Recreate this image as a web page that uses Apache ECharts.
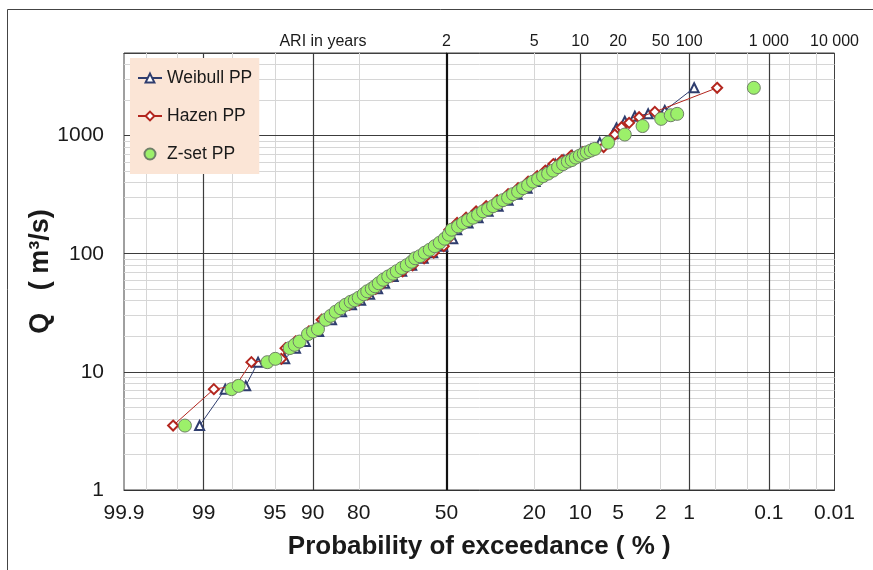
<!DOCTYPE html>
<html>
<head>
<meta charset="utf-8">
<script src="https://cdn.jsdelivr.net/npm/echarts@6/dist/echarts.min.js"></script>
<style>
html,body{margin:0;padding:0;background:#fff;}
#chart{width:873px;height:570px;}
</style>
</head>
<body>
<div id="chart"></div>
<script>
// ---- data: [exceedance probability (%), Q (m3/s)] ----
const weibullPP = [[99.1,3.51],[98.3,7.14],[97.28,7.61],[96.45,12.08],[93.94,12.89],[92.60,15.88],[91.19,18.06],[88.96,21.95],[86.46,27.6],[84.26,32.3],[81.85,37.0],[79.46,40.4],[76.93,45.4],[74.52,50.5],[72.33,56.2],[69.52,64.2],[66.59,71.1],[63.05,79.9],[58.83,91.6],[55.24,102.0],[51.41,115.8],[47.59,134.0],[46.05,159.7],[41.79,182.0],[38.08,201.9],[34.48,228.3],[31.02,252.7],[27.72,284.1],[24.91,319.4],[21.97,359.0],[19.78,407.6],[18.47,453.8],[16.71,505.1],[14.86,573.5],[13.01,620.1],[11.42,676.9],[9.86,722.1],[8.30,771.6],[7.08,872],[5.51,1034],[5.16,1162],[4.37,1322],[3.55,1457],[2.66,1527],[1.82,1629],[0.88,2537]];
const hazenPP = [[99.56,3.51],[98.71,7.14],[97.83,7.61],[96.92,12.08],[94.32,12.89],[93.85,15.88],[92.59,18.06],[90.63,21.95],[88.42,27.6],[85.13,32.3],[82.33,37.0],[79.99,40.4],[77.49,45.4],[75.11,50.5],[72.95,56.2],[69.85,64.2],[66.25,71.1],[62.69,79.9],[58.47,91.6],[54.86,102.0],[51.03,115.8],[49.3,134.0],[48.9,159.7],[45.94,182.0],[42.54,201.9],[38.80,228.3],[35.17,252.7],[31.35,284.1],[27.72,319.4],[24.61,359.0],[21.68,407.6],[19.21,453.8],[17.17,505.1],[15.28,573.5],[13.39,620.1],[11.59,676.9],[9.55,722.1],[7.47,771.6],[6.6,800],[5.33,1020],[4.67,1176],[4.00,1281],[3.24,1429],[2.29,1588],[0.474,2537]];
const zsetPP = [[99.39,3.51],[98.03,7.14],[97.68,7.61],[95.69,12.08],[94.95,12.89],[93.35,15.88],[92.70,16.93],[92.03,18.06],[90.77,20.87],[89.96,21.95],[89.09,23.0],[87.64,27.6],[86.63,29.8],[85.57,32.3],[84.45,34.5],[83.29,37.0],[82.06,39.2],[81.03,40.4],[79.98,42.4],[78.61,45.4],[77.61,48.1],[76.30,50.5],[75.27,53.0],[74.19,56.2],[72.77,60.2],[71.16,64.2],[69.57,67.7],[68.31,71.1],[66.59,75.6],[64.83,79.9],[63.03,85.5],[61.76,91.6],[60.10,95.2],[58.24,102.0],[56.36,108.1],[54.46,115.8],[52.56,124.0],[50.65,134.0],[49.12,144.9],[47.97,159.7],[45.57,170.4],[43.68,182.0],[41.80,192.3],[39.94,201.9],[38.10,214.1],[36.28,228.3],[34.50,238.3],[32.75,252.7],[31.04,269.0],[29.37,284.1],[27.74,298.3],[26.16,319.4],[24.62,335.4],[23.14,359.0],[21.70,380.6],[20.32,407.6],[18.99,428.0],[17.72,453.8],[16.50,476.4],[15.34,505.1],[14.23,540.9],[13.18,573.5],[12.24,602.2],[11.49,620.1],[10.75,651.1],[10.06,676.9],[9.41,703.9],[8.93,722.1],[8.33,746.4],[7.75,771.6],[6.07,872.4],[4.37,1020],[3.01,1204],[1.98,1385],[1.58,1486],[1.35,1527],[0.161,2537]];

// ---- tick labels ----
const probTicks = [99.9, 99, 95, 90, 80, 50, 20, 10, 5, 2, 1, 0.1, 0.01];
const probLabels = ['99.9','99','95','90','80','50','20','10','5','2','1','0.1','0.01'];
const ariTicks = [2, 5, 10, 20, 50, 100, 1000, 10000];
const ariLabels = ['2','5','10','20','50','100','1 000','10 000'];
const qTicks = [1, 10, 100, 1000];
const qLabels = ['1','10','100','1000'];

// ---- grid lines ----
const medianProbLine = [50];
const majorProbLines = [99, 90, 10, 1, 0.1];
const minorProbLines = [99.8, 99.5, 98, 95, 80, 20, 5, 2, 0.5, 0.2, 0.05, 0.02];
const majorQLines = [10, 100, 1000];
const minorQLines = [2,3,4,5,6,7,8,9,20,30,40,50,60,70,80,90,200,300,400,500,600,700,800,900,2000,3000,4000];

const Q_MIN = 1, Q_MAX = 5000;

// inverse standard normal CDF (Acklam)
function invNorm(p){
  const a=[-3.969683028665376e+01,2.209460984245205e+02,-2.759285104469687e+02,1.383577518672690e+02,-3.066479806614716e+01,2.506628277459239e+00];
  const b=[-5.447609879822406e+01,1.615858368580409e+02,-1.556989798598866e+02,6.680131188771972e+01,-1.328068155288572e+01];
  const c=[-7.784894002430293e-03,-3.223964580411365e-01,-2.400758277161838e+00,-2.549732539343734e+00,4.374664141464968e+00,2.938163982698783e+00];
  const d=[7.784695709041462e-03,3.224671290700398e-01,2.445134137142996e+00,3.754408661907416e+00];
  const pl=0.02425, ph=1-pl; let q,r;
  if(p<pl){q=Math.sqrt(-2*Math.log(p));return (((((c[0]*q+c[1])*q+c[2])*q+c[3])*q+c[4])*q+c[5])/((((d[0]*q+d[1])*q+d[2])*q+d[3])*q+1);}
  if(p<=ph){q=p-0.5;r=q*q;return (((((a[0]*r+a[1])*r+a[2])*r+a[3])*r+a[4])*r+a[5])*q/(((((b[0]*r+b[1])*r+b[2])*r+b[3])*r+b[4])*r+1);}
  q=Math.sqrt(-2*Math.log(1-p));return -(((((c[0]*q+c[1])*q+c[2])*q+c[3])*q+c[4])*q+c[5])/((((d[0]*q+d[1])*q+d[2])*q+d[3])*q+1);
}
// exceedance probability (%) -> normal-probability axis coordinate
function toX(pct){ return invNorm(1 - pct/100); }

const X_MIN = toX(probTicks[0]);
const X_MAX = toX(probTicks[probTicks.length-1]);

function labelFor(v, ticks, labels, conv){
  let best = -1, bd = Infinity;
  for (let i=0;i<ticks.length;i++){ const dd = Math.abs(conv(ticks[i]) - v); if (dd < bd){ bd = dd; best = i; } }
  return bd < 1e-3 ? labels[best] : '';
}

const FONT = 'Liberation Sans, Arial, Helvetica, sans-serif';
const toPts = arr => arr.map(([p,q]) => [toX(p), q]);

const chart = echarts.init(document.getElementById('chart'), null, {renderer:'canvas'});
const option = {
  animation: false,
  backgroundColor: '#ffffff',
  textStyle: { fontFamily: FONT },
  grid: { left: 124, right: 38.5, top: 53, bottom: 80, show: true, borderColor: '#404040', borderWidth: 1, backgroundColor: 'transparent', outerBoundsMode: 'none' },
  legend: {
    data: ['Weibull PP','Hazen PP','Z-set PP'],
    orient: 'vertical', left: 130, top: 58,
    backgroundColor: '#fbe5d6',
    padding: [11, 7, 11, 7],
    itemGap: 20, itemWidth: 24, itemHeight: 11,
    textStyle: { fontSize: 17.5, color: '#1a1a1a', fontFamily: FONT }
  },
  graphic: [
    { type:'line', shape:{x1:7.5,y1:9.5,x2:873,y2:9.5}, style:{stroke:'#444',lineWidth:1}, silent:true },
    { type:'line', shape:{x1:7.5,y1:9.5,x2:7.5,y2:570}, style:{stroke:'#444',lineWidth:1}, silent:true },
    { type:'text', x:323, y:41.5, style:{ text:'ARI in years', fontSize:16, fill:'#1a1a1a', fontFamily: FONT, align:'center', verticalAlign:'middle' }, silent:true }
  ],
  xAxis: [
    {
      type: 'value', position: 'bottom', min: X_MIN, max: X_MAX,
      axisLine: { show: true, lineStyle: { color: '#333', width: 1 } },
      axisTick: { show: false },
      splitLine: { show: false },
      axisLabel: {
        customValues: probTicks.map(toX),
        formatter: v => labelFor(v, probTicks, probLabels, toX),
        fontSize: 21, color: '#1a1a1a', margin: 13, fontFamily: FONT
      },
      name: 'Probability of exceedance ( % )', nameLocation: 'middle', nameGap: 44,
      nameMoveOverlap: false,
      nameTextStyle: { fontSize: 26, fontWeight: 'bold', color: '#1a1a1a', fontFamily: FONT }
    },
    {
      type: 'value', position: 'top', min: X_MIN, max: X_MAX,
      axisLine: { show: true, lineStyle: { color: '#404040', width: 1 } },
      axisTick: { show: false },
      splitLine: { show: false },
      axisLabel: {
        customValues: ariTicks.map(a => toX(100/a)),
        formatter: v => labelFor(v, ariTicks, ariLabels, a => toX(100/a)),
        fontSize: 16, color: '#1a1a1a', margin: 3, fontFamily: FONT
      }
    }
  ],
  yAxis: {
    type: 'log', logBase: 10, min: Q_MIN, max: Q_MAX,
    axisLine: { show: true, lineStyle: { color: '#333', width: 1 } },
    axisTick: { show: true, inside: false, length: 6, lineStyle: { color: '#333' } },
    splitLine: { show: false },
    minorTick: { show: false },
    axisLabel: {
      fontSize: 21, color: '#1a1a1a', margin: 20, showMaxLabel: false, fontFamily: FONT,
      formatter: v => labelFor(Math.log10(v), qTicks, qLabels, t => Math.log10(t))
    },
    name: 'Q   ( m³/s)', nameLocation: 'middle', nameGap: 70, nameRotate: 90,
    nameMoveOverlap: false,
    nameTextStyle: { fontSize: 27, fontWeight: 'bold', color: '#1a1a1a', fontFamily: FONT }
  },
  series: [
    {
      name: 'minor-grid', type: 'line', data: [], silent: true, z: 1,
      markLine: {
        silent: true, symbol: ['none','none'], animation: false, z: 1,
        label: { show: false },
        lineStyle: { type: 'solid', color: '#d6d6d6', width: 1 },
        data: minorProbLines.map(p => ({ xAxis: toX(p) })).concat(minorQLines.map(q => ({ yAxis: q })))
      }
    },
    {
      name: 'major-grid', type: 'line', data: [], silent: true, z: 2,
      markLine: {
        silent: true, symbol: ['none','none'], animation: false, z: 2,
        label: { show: false },
        lineStyle: { type: 'solid', color: '#3c3c3c', width: 1.2 },
        data: majorProbLines.map(p => ({ xAxis: toX(p) }))
          .concat(majorQLines.map(q => ({ yAxis: q })))
          .concat(medianProbLine.map(p => ({ xAxis: toX(p), lineStyle: { color: '#111', width: 2.2 } })))
      }
    },
    {
      name: 'Weibull PP', type: 'line', z: 3,
      data: toPts(weibullPP),
      symbol: 'emptyTriangle', symbolSize: 9,
      lineStyle: { color: '#2f3d6e', width: 1 },
      itemStyle: { color: '#2f3d6e', borderWidth: 1 }
    },
    {
      name: 'Hazen PP', type: 'line', z: 4,
      data: toPts(hazenPP),
      symbol: 'emptyDiamond', symbolSize: 10,
      lineStyle: { color: '#b3261e', width: 1 },
      itemStyle: { color: '#b3261e', borderWidth: 1 }
    },
    {
      name: 'Z-set PP', type: 'scatter', z: 5,
      data: toPts(zsetPP),
      symbol: 'circle', symbolSize: 13,
      itemStyle: { color: '#9cf06a', borderColor: '#6f7f68', borderWidth: 1, opacity: 1 }
    }
  ]
};
chart.setOption(option);
</script>
</body>
</html>
